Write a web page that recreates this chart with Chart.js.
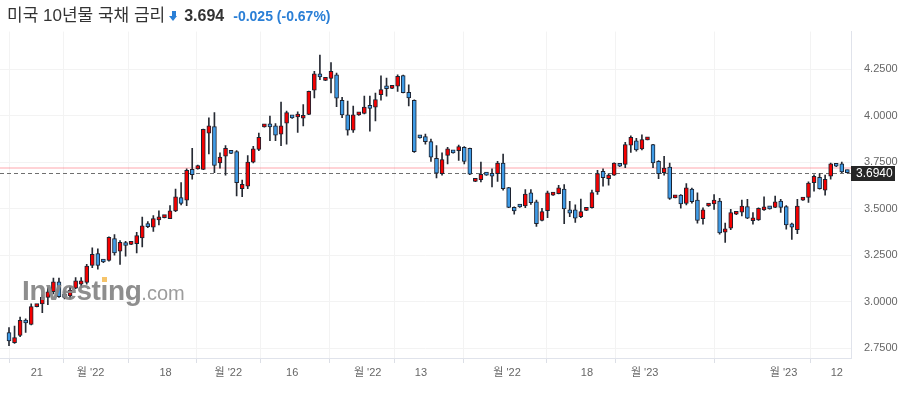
<!DOCTYPE html>
<html>
<head>
<meta charset="utf-8">
<script src="https://cdn.jsdelivr.net/npm/chart.js@4.4.0/dist/chart.umd.min.js"></script>
<style>
  body { margin: 0; background: #fff; width: 907px; height: 394px; overflow: hidden; position: relative;
         font-family: "Liberation Sans", "Noto Sans CJK KR", sans-serif; }
  #title { position: absolute; left: 7px; top: 1px; height: 24px; display: flex; align-items: baseline; white-space: nowrap; z-index: 3; }
  #title .name { font-size: 17px; color: #333; }
  #title .arrow { display: inline-block; position: relative; width: 9px; height: 10px; margin-left: 4px; }
  #title .arrow:before { content: ""; position: absolute; left: 2.5px; top: 0; width: 4px; height: 5px; background: #2a7fd6; }
  #title .arrow:after { content: ""; position: absolute; left: 0; top: 5px; border-left: 4.5px solid transparent;
                        border-right: 4.5px solid transparent; border-top: 5px solid #2a7fd6; }
  #title .last { font-size: 16px; font-weight: bold; color: #333; margin-left: 6px; }
  #title .chg { font-size: 14px; font-weight: bold; color: #2a7fd6; margin-left: 9px; }
  #wrap { position: absolute; left: 0; top: 12px; width: 907px; height: 382px; }
  #wm { position: absolute; left: 22px; top: 277px; z-index: 2; pointer-events: none; line-height: 28px;
        font-size: 28px; font-weight: bold; color: rgba(135,135,135,0.94); letter-spacing: -0.4px; white-space: nowrap; }
  #wm .i { position: relative; }
  #wm .i b { position: absolute; left: 1px; top: 2px; width: 5px; height: 5px; background: #f6c46a; }
  #wm .com { font-size: 20px; font-weight: normal; color: rgba(150,150,150,0.94); letter-spacing: 0; }
</style>
</head>
<body>
<div id="title">
  <span class="name">미국 10년물 국채 금리</span>
  <span class="arrow"></span>
  <span class="last">3.694</span>
  <span class="chg">-0.025 (-0.67%)</span>
</div>
<div id="wrap"><canvas id="chart" width="907" height="382"></canvas></div>
<div id="wm">Invest<span class="i">ı<b></b></span>ng<span class="com">.com</span></div>
<script>
// 일봉 데이터 (시가 / 고가 / 저가 / 종가)
const opens = [
  2.834, 2.779, 2.818, 2.899, 2.877, 2.973, 2.988, 3.023, 3.053, 3.106,
  3.032, 3.030, 3.072, 3.094, 3.103, 3.195, 3.259, 3.222, 3.222, 3.339,
  3.271, 3.312, 3.308, 3.312, 3.342, 3.415, 3.401, 3.440, 3.452, 3.446,
  3.488, 3.559, 3.546, 3.711, 3.714, 3.711, 3.906, 3.941, 3.746, 3.782,
  3.809, 3.807, 3.608, 3.621, 3.750, 3.818, 3.940, 3.952, 3.945, 3.901,
  3.959, 3.998, 3.993, 3.986, 4.007, 4.137, 4.220, 4.190, 4.200, 4.220,
  4.083, 4.004, 3.922, 4.004, 4.012, 4.052, 4.046, 4.113, 4.158, 4.147,
  4.158, 4.216, 4.126, 4.083, 3.892, 3.887, 3.860, 3.771, 3.688, 3.786,
  3.812, 3.812, 3.830, 3.824, 3.647, 3.656, 3.690, 3.686, 3.688, 3.745,
  3.613, 3.507, 3.520, 3.514, 3.585, 3.537, 3.436, 3.489, 3.573, 3.581,
  3.605, 3.494, 3.493, 3.457, 3.491, 3.505, 3.590, 3.701, 3.661, 3.680,
  3.740, 3.738, 3.842, 3.865, 3.821, 3.870, 3.844, 3.754, 3.693, 3.723,
  3.558, 3.573, 3.528, 3.605, 3.546, 3.446, 3.514, 3.525, 3.541, 3.374,
  3.395, 3.470, 3.481, 3.511, 3.435, 3.440, 3.493, 3.509, 3.507, 3.541,
  3.511, 3.419, 3.387, 3.546, 3.561, 3.640, 3.669, 3.600, 3.674, 3.740,
  3.741, 3.706
];
const highs = [
  2.860, 2.869, 2.917, 2.908, 2.988, 2.984, 3.037, 3.076, 3.126, 3.126,
  3.059, 3.080, 3.129, 3.129, 3.200, 3.289, 3.284, 3.226, 3.348, 3.360,
  3.328, 3.324, 3.313, 3.372, 3.454, 3.430, 3.463, 3.488, 3.454, 3.516,
  3.605, 3.640, 3.714, 3.824, 3.734, 3.928, 3.989, 4.016, 3.800, 3.839,
  3.811, 3.812, 3.653, 3.786, 3.835, 3.906, 3.954, 3.998, 3.957, 4.073,
  4.025, 4.000, 4.021, 4.060, 4.132, 4.238, 4.326, 4.200, 4.286, 4.229,
  4.099, 4.078, 4.052, 4.016, 4.105, 4.105, 4.122, 4.214, 4.202, 4.160,
  4.220, 4.218, 4.166, 4.085, 3.894, 3.901, 3.874, 3.839, 3.800, 3.830,
  3.814, 3.842, 3.834, 3.826, 3.660, 3.750, 3.692, 3.714, 3.754, 3.794,
  3.615, 3.510, 3.522, 3.603, 3.603, 3.546, 3.502, 3.594, 3.587, 3.626,
  3.630, 3.540, 3.520, 3.551, 3.507, 3.600, 3.706, 3.714, 3.688, 3.747,
  3.742, 3.856, 3.892, 3.878, 3.897, 3.872, 3.846, 3.759, 3.782, 3.745,
  3.560, 3.576, 3.635, 3.610, 3.585, 3.505, 3.527, 3.576, 3.555, 3.422,
  3.496, 3.483, 3.546, 3.550, 3.479, 3.505, 3.564, 3.511, 3.568, 3.550,
  3.516, 3.422, 3.550, 3.561, 3.644, 3.682, 3.688, 3.680, 3.745, 3.742,
  3.750, 3.708
];
const lows = [
  2.763, 2.775, 2.811, 2.834, 2.875, 2.971, 2.940, 2.984, 3.041, 3.023,
  3.014, 3.015, 3.069, 3.076, 3.094, 3.182, 3.174, 3.210, 3.218, 3.250,
  3.200, 3.244, 3.306, 3.262, 3.294, 3.398, 3.378, 3.413, 3.450, 3.446,
  3.484, 3.520, 3.516, 3.658, 3.712, 3.710, 3.794, 3.693, 3.718, 3.680,
  3.795, 3.569, 3.564, 3.608, 3.746, 3.812, 3.938, 3.865, 3.865, 3.839,
  3.847, 3.985, 3.910, 3.945, 4.005, 4.096, 4.193, 4.188, 4.122, 4.048,
  3.989, 3.895, 3.910, 4.002, 4.010, 3.917, 3.972, 4.083, 4.105, 4.145,
  4.131, 4.122, 4.052, 3.803, 3.879, 3.847, 3.754, 3.665, 3.680, 3.741,
  3.798, 3.759, 3.741, 3.683, 3.645, 3.644, 3.678, 3.617, 3.647, 3.600,
  3.505, 3.470, 3.507, 3.505, 3.523, 3.404, 3.434, 3.452, 3.571, 3.579,
  3.419, 3.457, 3.426, 3.452, 3.489, 3.502, 3.576, 3.621, 3.626, 3.678,
  3.726, 3.720, 3.803, 3.809, 3.816, 3.869, 3.720, 3.661, 3.680, 3.550,
  3.557, 3.502, 3.520, 3.530, 3.422, 3.417, 3.512, 3.496, 3.363, 3.319,
  3.387, 3.468, 3.461, 3.446, 3.417, 3.437, 3.491, 3.497, 3.505, 3.480,
  3.390, 3.334, 3.366, 3.544, 3.534, 3.594, 3.605, 3.573, 3.658, 3.726,
  3.693, 3.692
];
const closes = [
  2.789, 2.807, 2.899, 2.885, 2.973, 2.982, 3.023, 3.053, 3.106, 3.027,
  3.023, 3.062, 3.112, 3.112, 3.191, 3.254, 3.195, 3.213, 3.346, 3.262,
  3.319, 3.302, 3.311, 3.355, 3.408, 3.403, 3.446, 3.452, 3.453, 3.488,
  3.564, 3.528, 3.706, 3.683, 3.732, 3.927, 3.945, 3.732, 3.777, 3.824,
  3.797, 3.640, 3.631, 3.750, 3.821, 3.883, 3.952, 3.940, 3.895, 3.945,
  4.016, 3.988, 4.004, 3.998, 4.131, 4.225, 4.209, 4.198, 4.238, 4.094,
  4.004, 3.922, 4.004, 4.014, 4.046, 4.039, 4.087, 4.140, 4.145, 4.158,
  4.211, 4.124, 4.096, 3.807, 3.881, 3.860, 3.777, 3.691, 3.764, 3.821,
  3.800, 3.834, 3.754, 3.685, 3.658, 3.685, 3.680, 3.674, 3.745, 3.608,
  3.507, 3.488, 3.509, 3.578, 3.532, 3.419, 3.484, 3.585, 3.585, 3.612,
  3.499, 3.476, 3.449, 3.484, 3.505, 3.587, 3.688, 3.667, 3.680, 3.745,
  3.728, 3.844, 3.883, 3.816, 3.871, 3.871, 3.746, 3.688, 3.718, 3.555,
  3.559, 3.525, 3.612, 3.537, 3.436, 3.493, 3.525, 3.546, 3.369, 3.392,
  3.479, 3.481, 3.514, 3.449, 3.446, 3.502, 3.502, 3.499, 3.537, 3.507,
  3.413, 3.401, 3.514, 3.559, 3.638, 3.674, 3.608, 3.658, 3.741, 3.728,
  3.697, 3.694
];

// x축 눈금 (봉 번호 기준) 과 라벨
const tickPos = [5, 14.7, 28.2, 39.5, 51, 64.6, 74.2, 89.7, 104.1, 114.5, 139.5, 149.1];
const tickLabels = ['21', "월 '22", '18', "월 '22", '16', "월 '22", '13', "월 '22", '18', "월 '23", "월 '23", '12'];
const yTicks = [2.75, 3.0, 3.25, 3.5, 3.75, 4.0, 4.25];

const lastPrice = 3.694;
const prevClose = 3.719;

const idx = opens.map((_, i) => i);
const up = closes.map((c, i) => c >= opens[i]);

const priceLines = {
  id: 'priceLines',
  beforeDatasetsDraw(chart) {
    const { ctx, chartArea: a, scales: { y } } = chart;
    ctx.save();
    let py = y.getPixelForValue(prevClose);
    ctx.strokeStyle = 'rgba(255,110,120,0.3)';
    ctx.lineWidth = 2;
    ctx.beginPath(); ctx.moveTo(a.left, py); ctx.lineTo(a.right, py); ctx.stroke();
    py = Math.round(y.getPixelForValue(lastPrice)) + 0.5;
    ctx.strokeStyle = '#6f6f6f';
    ctx.lineWidth = 1;
    ctx.setLineDash([4, 3]);
    ctx.beginPath(); ctx.moveTo(a.left, py); ctx.lineTo(a.right, py); ctx.stroke();
    ctx.restore();
  },
  afterDraw(chart) {
    const { ctx, chartArea: a, scales: { y } } = chart;
    const py = Math.round(y.getPixelForValue(lastPrice));
    ctx.save();
    ctx.fillStyle = '#262626';
    ctx.fillRect(a.right, py - 7, 44, 15);
    ctx.fillStyle = '#fff';
    ctx.font = '12px "Liberation Sans", sans-serif';
    ctx.textBaseline = 'middle';
    ctx.fillText(lastPrice.toFixed(4), a.right + 5, py + 1);
    ctx.restore();
  }
};

new Chart(document.getElementById('chart'), {
  type: 'bar',
  data: {
    datasets: [
      {
        label: 'body',
        data: idx.map(i => ({ x: i, y: [opens[i], closes[i]] })),
        backgroundColor: up.map(u => u ? '#f50000' : '#3f9be6'),
        borderColor: '#1c2230',
        borderWidth: 1,
        borderSkipped: false,
        barThickness: 4,
        minBarLength: 3,
        grouped: false,
        order: 1
      },
      {
        label: 'wick',
        data: idx.map(i => ({ x: i, y: [lows[i], highs[i]] })),
        backgroundColor: '#262a33',
        barThickness: 1,
        grouped: false,
        order: 2
      }
    ]
  },
  options: {
    responsive: false,
    animation: false,
    devicePixelRatio: 1,
    layout: { padding: 0 },
    plugins: { legend: { display: false }, tooltip: { enabled: false } },
    scales: {
      x: {
        type: 'linear',
        min: -1.621,
        max: 151.66,
        offset: false,
        afterBuildTicks: s => { s.ticks = tickPos.map(v => ({ value: v })); },
        afterFit: s => { s.height = 36; },
        grid: { color: '#f3f3f3', tickLength: 5, tickColor: '#dcdfe6' },
        border: { color: '#e0e3eb' },
        ticks: {
          autoSkip: false, maxRotation: 0, padding: 3, color: '#666',
          font: { size: 11, family: '"Liberation Sans", "Noto Sans CJK KR", sans-serif' },
          callback: (v, i) => tickLabels[i]
        }
      },
      y: {
        position: 'right',
        min: 2.6968,
        max: 4.4521,
        afterBuildTicks: s => { s.ticks = yTicks.map(v => ({ value: v })); },
        afterFit: s => { s.width = 56; },
        grid: { color: '#f3f3f3', drawTicks: false },
        border: { color: '#e0e3eb' },
        ticks: {
          padding: 13, color: '#666',
          font: { size: 11, family: '"Liberation Sans", sans-serif' },
          callback: v => v.toFixed(4)
        }
      }
    }
  },
  plugins: [priceLines]
});
</script>
</body>
</html>
